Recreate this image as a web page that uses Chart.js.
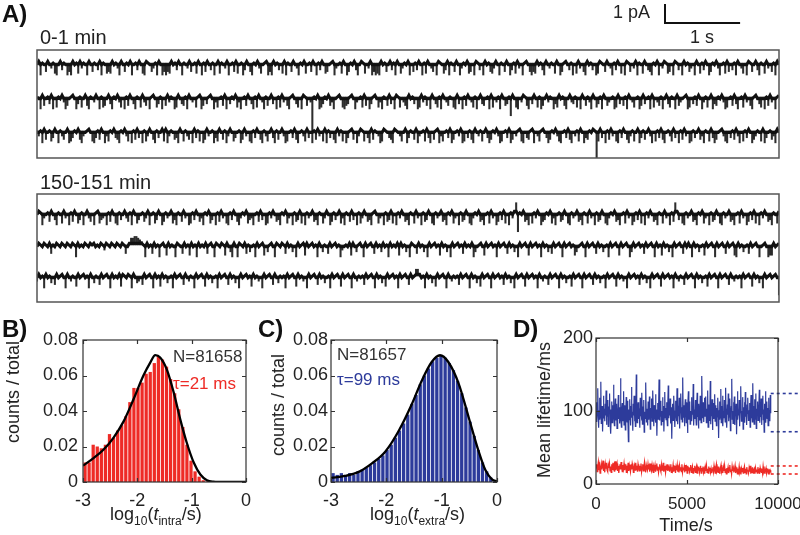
<!DOCTYPE html>
<html>
<head>
<meta charset="utf-8">
<script src="https://cdn.jsdelivr.net/npm/chart.js@4.4.1/dist/chart.umd.min.js"></script>
<style>
  body { margin: 0; background: #fff; }
  #fig { position: relative; width: 800px; height: 535px; overflow: hidden;
         font-family: "Liberation Sans", Arial, sans-serif; color: #222; }
  #fig canvas { position: absolute; }
  .lbl { position: absolute; line-height: 1; white-space: nowrap; }
  .panel { font-weight: bold; font-size: 24px; color: #111; }
  .vt { position: absolute; line-height: 1; white-space: nowrap; font-size: 18px;
        transform: translate(-50%, -50%) rotate(-90deg); }
  .sb { position: relative; top: 5px; font-size: 12px; }
</style>
</head>
<body>
<div id="fig">
  <canvas id="early" width="800" height="165" style="left:0;top:0"></canvas>
  <canvas id="late" width="800" height="145" style="left:0;top:165px"></canvas>
  <canvas id="histIntra" width="252" height="205" style="left:0;top:330px"></canvas>
  <canvas id="histExtra" width="250" height="205" style="left:258px;top:330px"></canvas>
  <canvas id="lifetime" width="280" height="210" style="left:520px;top:325px"></canvas>

  <div class="lbl panel" style="left:2px;top:2px">A)</div>
  <div class="lbl" style="left:40px;top:27px;font-size:20px">0-1 min</div>
  <div class="lbl" style="left:40px;top:172px;font-size:20px">150-151 min</div>
  <div class="lbl" style="left:613px;top:3px;font-size:18px">1 pA</div>
  <div class="lbl" style="left:690px;top:28px;font-size:18px">1 s</div>

  <div class="lbl panel" style="left:2px;top:317px">B)</div>
  <div class="lbl panel" style="left:258px;top:317px">C)</div>
  <div class="lbl panel" style="left:513px;top:317px">D)</div>

  <div class="lbl" style="left:173px;top:348px;font-size:17px;color:#333">N=81658</div>
  <div class="lbl" style="left:173px;top:375px;font-size:17px;color:#ee2b26">&tau;=21 ms</div>
  <div class="lbl" style="left:337px;top:346px;font-size:17px;color:#333">N=81657</div>
  <div class="lbl" style="left:337px;top:371px;font-size:17px;color:#2d3b9b">&tau;=99 ms</div>

  <div class="vt" style="left:13px;top:392px">counts / total</div>
  <div class="vt" style="left:278px;top:405px">counts / total</div>
  <div class="vt" style="left:544px;top:410px">Mean lifetime/ms</div>
  <div class="lbl" style="left:110px;top:505px;font-size:18px">log<span class="sb">10</span>(<i>t</i><span class="sb">intra</span>/s)</div>
  <div class="lbl" style="left:370px;top:505px;font-size:18px">log<span class="sb">10</span>(<i>t</i><span class="sb">extra</span>/s)</div>
  <div class="lbl" style="left:686px;top:516px;font-size:18px;transform:translateX(-50%)">Time/s</div>
</div>

<script>
// ---- panel A: current traces ----
// one char per sample, level = parseInt(c, 36) - 20 steps from baseline ('k' = baseline)
const TRACE_SECONDS = 9.88;
const PA_PER_STEP = 0.09;
const earlyBaselines = [5.01, 3.22, 1.43];
const lateBaselines = [4.70, 3.01, 1.37];

const early1 =
  "jldkjfljhkedjlgkjdfdljkelhkjdljfkjgldkjefeljkhdljfk" +
  "jldjkgljedlkjfhkdljdfdfeljkgljdkjhlfjkeljdkfljgkdjle" +
  "kjhldjkflejkdgljfdkjlhejkldfdljkgjeldkjfljhdkjlejkfl" +
  "jdkgljefjkldhjkeljdfkjlgdjlkejhldfdedljkfjlgkdljehkj" +
  "ldjfkgljdkeljhfjdlkjegldkjfljdhkjlefjdlkgjdljkfehljd" +
  "kjfljdgkelhjdkljfdfeljkgdljhkjeljdfkljgkdjelhjfdljkg" +
  "jdelkjfljhdkgljejdlkfjhldkjeljgfdkjldjhlkefjdlkgjdlj" +
  "kfhjdljekgljdfkjlhdjkelfjgkdljhejdlkfjlgdkjelhjfkdlj";
const early2 =
  "kjdlfjkgldjekjlhdfjkljdgkejlfdkjhljdkefjlgdkjlhejdkf" +
  "ljgdkjelhfjdkljegkdjflhkjdeljgfkdljhjekldfjgkljdhejk" +
  "fldjgkjlehdjkfljgdkeljhdkfjlgjdkelhjfdkljgejdlkfjh0k" +
  "jldegkjlfhdjkljedfgkljdhjkelfjdgkljehdkjflgjdlkejhfd" +
  "ljkgjdelhkfjdljgekdljhfkjedlgjdkfljhekdjlgfjkdlejhkd" +
  "ljfgk9ljedjhlkfdjgljekdfjlhkjdgeljkfdjlhgkejdljfkhdl" +
  "jegkdljfhjkdelgjfkdljhejkdflgjkdlejhfkdjlgekjdlfhjkl" +
  "dejgkfljdhkejldgfkjlhdejkflgdjkelhjfdkljgejdkflhjdkl";
const early3 =
  "jhkdlfjkegljdkhfjldegkjlfdhjkljedgkfljdhekjlgfdkjlhe" +
  "jdkflgjdkehljfdkgjleldhkjfgdljekhfjdlgkejdflhjkdgelj" +
  "fkdhljegjkdflhjedkgljfdkhejlgdkfjlhdejkglfdjkhelgjdk" +
  "flhjeldkgjfdlhkejdgklfjdhlkejgdlfkjhdelkjgfdlkjhejld" +
  "gkjfldhjkelgdjfkldhejkgldfjkhldejgkfdljhkejlgdfkjlhd" +
  "ejkgldfjhkledjgfkldjhekljgdfkjlhedjkglfdjhkeljdgfkjl" +
  "k1elgjdkflhjedkgljfdhkejldgkfjlhdjekglfdjkhelgjdkflh" +
  "jdekgjlfhdkjelgdfjklhedjgkflhdjekgljdfhkjeldgjkfhdlj";
const late1 =
  "jlkdhjkfljgdkjelhjdkfljegkdjlhfjdkleghjdkfljedkgjlhf" +
  "kdljegjkfhldjkegljdfkhjlegdkjflhjdekgljfhdkjlegjdkfl" +
  "hjedkgljfdhkjleghdjkflgjdekhljfgdkjlehjdkfglejdkhjlf" +
  "gdkjehljdfkgjlehdkjflgjdkehljfgdkljehjdkfglejdkhljfg" +
  "dkjelhjdkfgljedkhjlfgdkjlehjdkfgljedhkjlfgdjkelhjdfk" +
  "glejdkhlq9kjlfgdjekhljdfgkjlehdjkfgljedkhjlfgdkjelhj" +
  "dkfgljedhkjlfgdjkelhjdfkglejdkhljfgdkjelhjdkfqlgjedk" +
  "hjlfgdkjlehjdkfgljedkhjlfgdjkelhjdfkglejdkhljfgdkjel";
const late2 =
  "jlkjlkjlfkjlkjlkjlkjlkdljkjlkjlkljkjlkhlkjlkjlkjlkfjl" +
  "oopponmkdljkfljkdkljeljkjdlkjfljkeljkdljkjlfkljdlkjlk" +
  "eljgdljdlkjlfkgjkdljklejgkljdlkjlkfljkgjdljkleljkljk" +
  "dljgkjfljkljkdhjkjleljgkljdljkljfljkgljkdljkjleljkgjd" +
  "lkjfljkgjdljkljkeljkgjdljkljkfljkjldgjkljeljkljkdljk" +
  "ljfljkgjdljkljeljkljkdljkgjfljkljdljkljkegjkljdljklj" +
  "fljkgjkdljkljeljkljdgljkljkfljkljdljkeljkgjdljkljflj" +
  "ljdljkgjkeljkljdljkljfljkledljkgjkfljkljdjkljdeeljkl";
const late3 =
  "hljkdljkgjfljkljdljhkjeljkljkdljgkjfljkljdljkjlelkjl" +
  "kdljghjfljkljdljkeljkgjkdljkljfljhkjdljkljeljkgjkdlj" +
  "kljfljkgjdljkljkeljkhjdljkljfljgkjkdljkljeljkhjdljkl" +
  "jfljkgjkdljkljeljkljdljhkjkfljkljdljkgjeljkljkdljklj" +
  "fljkooljkdljkgjeljkljdljhkjkfljkljdljkgjeljkljdljklj" +
  "kfljkgjdljkljeljkljkdljhkjfljkljdljkgjkeljkljdljkljf" +
  "ljkgjkdljkljeljkhjdljkljkfljkgjdljkljeljkljkdljhkjfl" +
  "jkljdljkgjkeljkljdljkljfljhkjkdljkljeljkgjdljkljklj9";

// ---- panels B and C: dwell-time histograms ----
const binCenters = Array.from({ length: 40 }, (_, i) => -3 + 0.075 * (i + 0.5));
const intraCounts = [0.011, 0.011, 0.021, 0.020, 0.019, 0.021, 0.027, 0.025, 0.029, 0.032,
  0.037, 0.045, 0.053, 0.053, 0.056, 0.061, 0.062, 0.067, 0.071, 0.069,
  0.065, 0.058, 0.050, 0.041, 0.031, 0.021, 0.012, 0.006, 0.003, 0.001,
  0.0003, 0, 0, 0, 0, 0, 0, 0, 0, 0];
const intraFitX = [-3.0, -2.8, -2.62, -2.44, -2.25, -2.07, -1.89, -1.76, -1.67, -1.58,
  -1.46, -1.33, -1.21, -1.09, -0.96, -0.84, -0.72, -0.6, -0.4, 0];
const intraFitY = [0.0092, 0.0136, 0.0183, 0.0249, 0.0343, 0.0466, 0.0598, 0.0674, 0.0715, 0.0702,
  0.0636, 0.0504, 0.0353, 0.0221, 0.0108, 0.0042, 0.0010, 0.0002, 0, 0];

const extraCounts = [0.005, 0.004, 0.005, 0.004, 0.005, 0.004, 0.006, 0.007, 0.008, 0.0095,
  0.011, 0.013, 0.015, 0.018, 0.021, 0.025, 0.029, 0.033, 0.038, 0.044,
  0.049, 0.055, 0.060, 0.064, 0.068, 0.070, 0.0715, 0.070, 0.067, 0.063,
  0.057, 0.050, 0.042, 0.034, 0.026, 0.018, 0.011, 0.006, 0.0025, 0.0007];
const extraFitX = [-3, -2.75, -2.5, -2.26, -2.02, -1.78, -1.54, -1.36, -1.18, -1.03,
  -0.88, -0.69, -0.51, -0.33, -0.21, -0.09, 0];
const extraFitY = [0.0023, 0.0034, 0.0057, 0.0105, 0.0171, 0.0286, 0.0438, 0.0571, 0.0676, 0.0714,
  0.0676, 0.0552, 0.0362, 0.0171, 0.0067, 0.0015, 0.0004];

// ---- panel D: mean lifetime vs time ----
const LIFETIME_END = 9600;
const extraLifetime = [
  98,112,85,104,131,92,77,101,118,88,95,140,83,99,107,72,96,121,90,103,86,110,94,128,81,
  100,93,115,79,106,97,124,88,102,69,95,113,84,108,99,136,91,80,104,117,87,98,110,76,101,
  94,122,89,105,83,97,145,92,78,103,111,86,99,127,81,96,108,74,100,119,90,85,114,97,58,
  102,88,116,95,80,107,133,91,99,73,110,94,121,86,101,79,104,150,92,84,98,112,89,105,96,
  77,118,93,100,87,125,82,106,97,115,71,99,90,109,139,85,96,103,80,113,94,88,120,99,75,
  104,92,117,86,101,128,95,79,108,98,90,123,84,102,66,97,111,89,106,143,87,99,93,114,81,
  100,95,119,85,107,72,98,126,91,104,88,112,96,80,109,135,90,101,94,117,83,99,105,62,97,
  110,87,103,121,92,78,100,114,95,86,131,99,82,107,93,118,76,102,97,124,89,105,85,146,94,
  91,108,79,101,116,96,84,112,99,70,105,127,88,97,113,82,100,93,119,86,104,95,137,80,98,
  102,89,115,94,81,107,125,92,99,76,110,96,87,121,100,84,106,148,91,97,112,85,103,118,93,
  96,120,84,103,91,128,78,100,109,87,97,141,82,105,93,116,74,99,111,89,102,123,86,95,108,
  80,104,92,118,99,63,101,113,88,96,130,84,107,94,121,79,100,90,115,97,85,132,92,103,77,
  109,95,124,86,101,91,117,73,98,106,144,89,100,83,112,96,120,81,104,93,110,68,99,127,88,
  102,94,115,79,107,97,134,86,100,91,119,75,105,98,112,84,126,92,103,81,109,96,118,87,101,
  93,111,78,104,122,90,99,85,138,95,107,82,116,100,89,124,76,103,94,113,87,105,98,129,84,
  100,92,117,81,106,96,121,88,102,71,110,95,127,84,99,113,90,104,80,118,93,101,86,122,97];
const intraLifetime = [
  22,27,17,24,30,19,25,15,23,28,20,26,32,18,24,16,27,21,29,19,17,26,22,28,18,
  24,16,27,20,29,22,26,17,31,19,24,28,18,25,15,23,27,20,30,22,17,26,21,28,19,
  23,27,16,25,20,29,18,26,22,17,27,20,28,24,16,23,26,19,29,20,25,17,27,22,18,
  25,19,28,17,23,27,18,24,30,20,16,26,22,19,27,20,24,17,28,21,18,26,20,16,24,
  21,26,17,23,28,19,24,16,22,27,20,17,26,19,23,29,17,21,25,16,23,19,27,18,22,
  24,17,21,27,16,23,19,26,17,21,25,15,23,19,26,17,22,16,25,19,23,17,27,16,21,
  20,24,16,26,18,22,15,25,19,23,17,21,26,16,20,24,15,22,18,25,16,20,24,15,22,
  19,24,16,21,25,15,22,18,24,16,20,14,23,18,25,16,21,15,24,18,22,16,21,15,20,
  23,17,25,19,15,22,27,18,21,16,24,19,14,22,26,17,20,15,23,18,25,16,21,14,22,
  18,23,15,21,26,17,20,14,24,18,22,16,20,25,15,19,23,14,21,17,24,16,19,13,21,
  17,22,15,20,24,16,21,14,23,18,19,15,22,17,25,14,20,16,23,15,19,21,14,22,17,
  20,15,23,17,19,14,22,18,16,21,15,24,17,20,14,19,22,15,18,21,14,20,16,19,17];
const extraBounds = [124, 71.6];
const intraBounds = [24.7, 13.7];
const boundSpan = [9600, 11300];

const BLACK = '#111';
const RED = '#ee2b26';
const NAVY = '#2d3b9b';

Chart.defaults.font.family = '"Liberation Sans", Arial, sans-serif';
Chart.defaults.font.size = 18;
Chart.defaults.color = '#222';

function traceLevels(code) {
  return code.split('').map(c => parseInt(c, 36) - 20);
}

// open-channel band (thick line, levels limited to the noise range)
// plus every sample as a thin floating bar from the baseline to its level
function traceDatasets(code, baseline) {
  const lv = traceLevels(code);
  const dt = TRACE_SECONDS / (lv.length - 1);
  const band = lv.map((l, i) => ({ x: i * dt, y: baseline + Math.max(-1, Math.min(1, l)) * PA_PER_STEP }));
  const spikes = lv.map((l, i) => ({ x: i * dt, y: [baseline, baseline + l * PA_PER_STEP] }));
  return [
    { type: 'line', data: band, borderColor: BLACK, borderWidth: 3, pointRadius: 0 },
    { type: 'bar', data: spikes, backgroundColor: 'rgba(0,0,0,0.82)', barThickness: 1.4,
      grouped: false, borderWidth: 0 }
  ];
}

const traceBox = {
  id: 'traceBox',
  afterDraw(chart, args, opts) {
    const { ctx, chartArea: a, scales: { x, y } } = chart;
    ctx.save();
    ctx.strokeStyle = '#555';
    ctx.lineWidth = 1.5;
    ctx.strokeRect(a.left, a.top, a.width, a.height);
    if (opts.scaleBar) {
      const w = x.getPixelForValue(1) - x.getPixelForValue(0);
      const h = y.getPixelForValue(0) - y.getPixelForValue(1);
      const [cx, cy] = opts.scaleBar;
      ctx.strokeStyle = '#111';
      ctx.lineWidth = 2;
      ctx.beginPath();
      ctx.moveTo(cx, cy - h);
      ctx.lineTo(cx, cy);
      ctx.lineTo(cx + w, cy);
      ctx.stroke();
    }
    ctx.restore();
  }
};

// MATLAB-like box with inward ticks on all four sides
const axesBox = {
  id: 'axesBox',
  afterDatasetsDraw(chart) {
    const { ctx, chartArea: a, scales: { x, y } } = chart;
    ctx.save();
    ctx.strokeStyle = '#333';
    ctx.lineWidth = 1.2;
    ctx.beginPath();
    x.ticks.forEach(t => {
      const px = Math.round(x.getPixelForValue(t.value)) + 0.5;
      ctx.moveTo(px, a.bottom); ctx.lineTo(px, a.bottom - 4);
      ctx.moveTo(px, a.top); ctx.lineTo(px, a.top + 4);
    });
    y.ticks.forEach(t => {
      const py = Math.round(y.getPixelForValue(t.value)) + 0.5;
      ctx.moveTo(a.left, py); ctx.lineTo(a.left + 4, py);
      ctx.moveTo(a.right, py); ctx.lineTo(a.right - 4, py);
    });
    ctx.stroke();
    ctx.strokeRect(a.left, a.top, a.width, a.height);
    ctx.restore();
  }
};

function traceChart(id, codes, baselines, padTop, padBottom, scaleBar) {
  new Chart(document.getElementById(id), {
    type: 'line',
    data: { datasets: codes.flatMap((c, i) => traceDatasets(c, baselines[i])) },
    options: {
      responsive: false, animation: false, events: [],
      layout: { padding: { left: 37, right: 21, top: padTop, bottom: padBottom } },
      scales: {
        x: { type: 'linear', display: false, min: 0, max: TRACE_SECONDS, offset: false },
        y: { type: 'linear', display: false, min: 0, max: 5.7 }
      },
      plugins: { legend: { display: false }, tooltip: { enabled: false }, traceBox: { scaleBar } }
    },
    plugins: [traceBox]
  });
}

traceChart('early', [early1, early2, early3], earlyBaselines, 50, 7, [665, 23]);
traceChart('late', [late1, late2, late3], lateBaselines, 29, 8, null);

function histChart(id, counts, fitX, fitY, color, yWidth, labelPad, padRight) {
  new Chart(document.getElementById(id), {
    type: 'bar',
    data: {
      datasets: [
        {
          type: 'line',
          data: fitX.map((v, i) => ({ x: v, y: fitY[i] })),
          borderColor: '#000', borderWidth: 2.3, pointRadius: 0,
          cubicInterpolationMode: 'monotone'
        },
        {
          type: 'bar',
          data: binCenters.map((v, i) => ({ x: v, y: counts[i] })),
          backgroundColor: color,
          barPercentage: 0.8, categoryPercentage: 1
        }
      ]
    },
    options: {
      responsive: false, animation: false, events: [],
      layout: { padding: { top: 10, right: padRight, left: 0, bottom: 0 } },
      scales: {
        x: {
          type: 'linear', min: -3, max: 0, offset: false,
          grid: { display: false, drawTicks: false }, border: { display: false },
          ticks: { stepSize: 1, padding: 8, maxRotation: 0, autoSkip: false },
          afterFit: s => { s.height = 53; s.paddingLeft = 0; s.paddingRight = 0; }
        },
        y: {
          min: 0, max: 0.08,
          grid: { display: false, drawTicks: false }, border: { display: false },
          ticks: { stepSize: 0.02, padding: labelPad, callback: v => v === 0 ? '0' : v.toFixed(2) },
          afterFit: s => { s.width = yWidth; s.paddingTop = 0; s.paddingBottom = 0; }
        }
      },
      plugins: { legend: { display: false }, tooltip: { enabled: false } }
    },
    plugins: [axesBox]
  });
}

histChart('histIntra', intraCounts, intraFitX, intraFitY, RED, 83, 5, 6);
histChart('histExtra', extraCounts, extraFitX, extraFitY, NAVY, 73, 3, 11);

const lifeStep = LIFETIME_END / (extraLifetime.length - 1);
const redStep = LIFETIME_END / (intraLifetime.length - 1);

function boundLine(v, color) {
  return {
    data: boundSpan.map(x => ({ x, y: v })),
    borderColor: color, borderWidth: 1.6, borderDash: [3, 3],
    pointRadius: 0, clip: false
  };
}

new Chart(document.getElementById('lifetime'), {
  type: 'line',
  data: {
    datasets: [
      { data: extraLifetime.map((v, i) => ({ x: i * lifeStep, y: v })),
        borderColor: NAVY, borderWidth: 1.2, pointRadius: 0 },
      { data: intraLifetime.map((v, i) => ({ x: i * redStep, y: v })),
        borderColor: RED, borderWidth: 1.3, pointRadius: 0 },
      boundLine(extraBounds[0], NAVY),
      boundLine(extraBounds[1], NAVY),
      boundLine(intraBounds[0], RED),
      boundLine(intraBounds[1], RED)
    ]
  },
  options: {
    responsive: false, animation: false, events: [],
    layout: { padding: { top: 13, right: 22, left: 0, bottom: 0 } },
    scales: {
      x: {
        type: 'linear', min: 0, max: 10000,
        grid: { display: false, drawTicks: false }, border: { display: false },
        ticks: { stepSize: 5000, padding: 10, maxRotation: 0, autoSkip: false,
                 font: { size: 17 }, callback: v => String(v) },
        afterFit: s => { s.height = 51; s.paddingLeft = 0; s.paddingRight = 0; }
      },
      y: {
        min: 0, max: 200,
        grid: { display: false, drawTicks: false }, border: { display: false },
        ticks: { stepSize: 100, padding: 3, callback: v => String(v) },
        afterFit: s => { s.width = 76; s.paddingTop = 0; s.paddingBottom = 0; }
      }
    },
    plugins: { legend: { display: false }, tooltip: { enabled: false } }
  },
  plugins: [axesBox]
});
</script>
</body>
</html>
